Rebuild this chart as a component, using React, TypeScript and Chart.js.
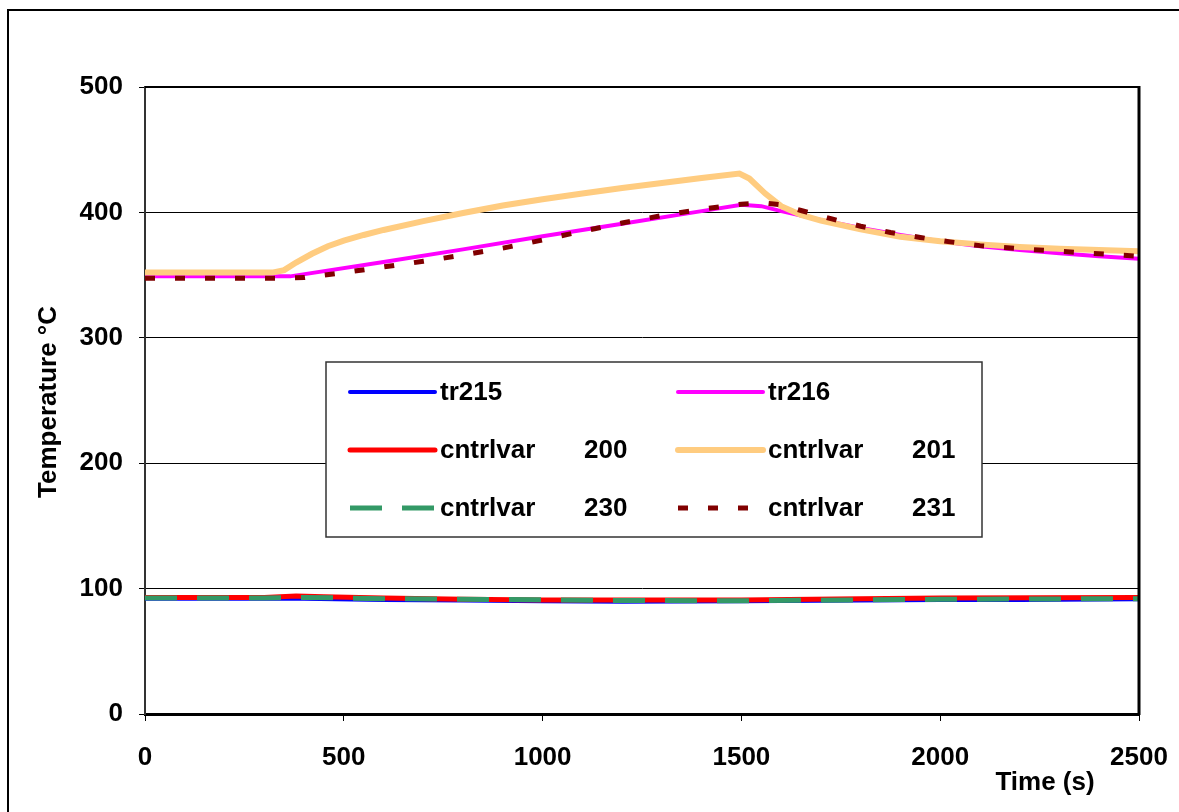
import React, { useEffect, useRef } from "react";
import { Chart, registerables } from "chart.js";

Chart.register(...registerables);

// ---- Data ----
const X_TICKS = [0, 500, 1000, 1500, 2000, 2500];
const Y_TICKS = [0, 100, 200, 300, 400, 500];

const tr215Time = [0, 300, 400, 600, 800, 1000, 1200, 1500, 1800, 2000, 2200, 2500];
const tr215Temp = [92, 92, 92, 91, 90.5, 90, 89.5, 90, 90.5, 91, 91, 91.5];

const tr216Time = [0, 365, 600, 800, 1000, 1200, 1400, 1500, 1550, 1600, 1700, 1800, 1900, 2000, 2100, 2200, 2300, 2400, 2500];
const tr216Temp = [349, 349, 360.5, 370.5, 381, 391, 401, 406, 405, 401, 394, 387.5, 382, 377, 373, 370, 367.5, 365, 363];

const cv200Time = [0, 300, 380, 450, 600, 800, 1000, 1500, 1800, 2000, 2500];
const cv200Temp = [93, 93, 94, 93.5, 92.5, 91.5, 91, 91, 92, 92.5, 93];

const cv201Time = [0, 320, 350, 380, 420, 460, 500, 550, 600, 700, 800, 900, 1000, 1100, 1200, 1300, 1400, 1495, 1520, 1560, 1600, 1650, 1700, 1800, 1900, 2000, 2100, 2200, 2300, 2400, 2500];
const cv201Temp = [352, 352, 354, 360, 367, 373, 377.5, 382, 386, 393, 399.5, 405.5, 410.5, 415, 419.5, 423.5, 427.5, 431, 427, 415, 405, 398, 393.5, 386.5, 380.5, 377, 374.5, 372.5, 371, 370, 369];

const cv230Time = [0, 300, 400, 600, 800, 1000, 1200, 1500, 1800, 2000, 2500];
const cv230Temp = [92.5, 92.5, 93, 92, 91.5, 91, 90.5, 90.3, 91, 91.5, 92];

const cv231Time = [0, 330, 400, 500, 600, 700, 800, 900, 1000, 1100, 1200, 1300, 1400, 1500, 1560, 1600, 1650, 1725, 1800, 1875, 1950, 2025, 2100, 2200, 2300, 2400, 2500];
const cv231Temp = [347.5, 347.5, 348, 352, 356.5, 361, 366, 371.5, 378, 385, 391.5, 397.5, 402.5, 406.5, 407.5, 406, 401.5, 395, 389, 384, 380, 376.5, 373.5, 371, 369, 367, 365];

const SERIES_NAMES = ["tr215", "tr216", "cntrlvar 200", "cntrlvar 201", "cntrlvar 230", "cntrlvar 231"];
const X_TITLE = "Time (s)";
const Y_TITLE = "Temperature °C";

const FONT_FAMILY = "'Liberation Sans', Arial, Helvetica, sans-serif";

function pts(t: number[], v: number[]) {
  return t.map((x, i) => ({ x, y: v[i] }));
}

export default function App() {
  const ref = useRef<HTMLCanvasElement | null>(null);

  useEffect(() => {
    const canvas = ref.current;
    if (!canvas) return;

    const styles = [
      { color: "#0000FF", width: 4, dash: [] as number[] },
      { color: "#FF00FF", width: 4, dash: [] as number[] },
      { color: "#FF0000", width: 5, dash: [] as number[] },
      { color: "#FFCC80", width: 6, dash: [] as number[] },
      { color: "#339966", width: 5, dash: [32, 20] },
      { color: "#800000", width: 5, dash: [10, 20] },
    ];
    const seriesData = [
      pts(tr215Time, tr215Temp),
      pts(tr216Time, tr216Temp),
      pts(cv200Time, cv200Temp),
      pts(cv201Time, cv201Temp),
      pts(cv230Time, cv230Temp),
      pts(cv231Time, cv231Temp),
    ];

    const decor = {
      id: "decor",
      beforeDraw(chart: any) {
        const ctx = chart.ctx;
        ctx.save();
        ctx.fillStyle = "#fff";
        ctx.fillRect(0, 0, chart.width, chart.height);
        ctx.strokeStyle = "#000";
        ctx.lineWidth = 2;
        ctx.beginPath();
        ctx.moveTo(8, 9);
        ctx.lineTo(8, chart.height);
        ctx.moveTo(7, 10);
        ctx.lineTo(chart.width, 10);
        ctx.stroke();
        ctx.restore();
      },
      afterDraw(chart: any) {
        const ctx = chart.ctx;
        const ca = chart.chartArea;
        ctx.save();
        // top & right plot border
        ctx.strokeStyle = "#000";
        ctx.lineWidth = 2;
        ctx.beginPath();
        ctx.moveTo(ca.left, ca.top);
        ctx.lineTo(ca.right, ca.top);
        ctx.stroke();
        ctx.lineWidth = 3;
        ctx.beginPath();
        ctx.moveTo(ca.right, ca.top - 1);
        ctx.lineTo(ca.right, ca.bottom + 1);
        ctx.stroke();

        // legend box
        const bx = ca.left + 181;
        const by = ca.top + 275;
        const bw = 656;
        const bh = 175;
        ctx.fillStyle = "#fff";
        ctx.fillRect(bx, by, bw, bh);
        ctx.strokeStyle = "#333";
        ctx.lineWidth = 1.5;
        ctx.strokeRect(bx, by, bw, bh);

        const colX = [bx + 24, bx + 352];
        const rowY = [by + 30, by + 88, by + 146];
        ctx.font = `bold 26px ${FONT_FAMILY}`;
        ctx.textBaseline = "middle";
        ctx.fillStyle = "#000";
        SERIES_NAMES.forEach((name, i) => {
          const col = i % 2;
          const row = Math.floor(i / 2);
          const x0 = colX[col];
          const y0 = rowY[row];
          const st = styles[i];
          ctx.strokeStyle = st.color;
          ctx.lineWidth = st.width;
          ctx.lineCap = st.dash.length ? "butt" : "round";
          ctx.setLineDash(st.dash);
          ctx.beginPath();
          ctx.moveTo(x0, y0);
          ctx.lineTo(x0 + 85, y0);
          ctx.stroke();
          ctx.setLineDash([]);
          const parts = name.split(" ");
          ctx.textAlign = "left";
          ctx.fillText(parts[0], x0 + 90, y0 + 1);
          if (parts[1]) {
            ctx.fillText(parts[1], x0 + 234, y0 + 1);
          }
        });

        // axis titles
        ctx.fillStyle = "#000";
        ctx.font = `bold 26px ${FONT_FAMILY}`;
        ctx.textBaseline = "alphabetic";
        ctx.textAlign = "center";
        ctx.fillText(X_TITLE, ca.right - 94, 790);
        ctx.translate(56, 402);
        ctx.rotate(-Math.PI / 2);
        ctx.fillText(Y_TITLE, 0, 0);
        ctx.restore();
      },
    };

    const tickFont = { family: FONT_FAMILY, size: 26, weight: "bold" as const };

    const chart = new Chart(canvas, {
      type: "line",
      data: {
        datasets: SERIES_NAMES.map((name, i) => ({
          label: name,
          data: seriesData[i],
          borderColor: styles[i].color,
          backgroundColor: styles[i].color,
          borderWidth: styles[i].width,
          borderDash: styles[i].dash,
          borderCapStyle: "butt",
          pointRadius: 0,
          tension: 0,
          fill: false,
          order: SERIES_NAMES.length - i,
        })),
      },
      options: {
        responsive: false,
        animation: false,
        devicePixelRatio: 1,
        parsing: false,
        layout: { padding: { left: 0, top: 87, right: 40, bottom: 0 } },
        plugins: {
          legend: { display: false },
          tooltip: { enabled: false },
        },
        scales: {
          x: {
            type: "linear",
            min: X_TICKS[0],
            max: X_TICKS[X_TICKS.length - 1],
            afterBuildTicks: (s: any) => {
              s.ticks = X_TICKS.map((v) => ({ value: v }));
            },
            afterFit: (s: any) => {
              s.height = 98;
              s.paddingLeft = 0;
              s.paddingRight = 0;
            },
            ticks: {
              font: tickFont,
              color: "#000",
              padding: 21,
              maxRotation: 0,
              autoSkip: false,
              callback: (v: any) => String(v),
            },
            grid: {
              drawOnChartArea: false,
              drawTicks: true,
              tickLength: 7,
              color: "#000",
              lineWidth: 1,
            },
            border: { color: "#000", width: 3 },
          },
          y: {
            type: "linear",
            min: Y_TICKS[0],
            max: Y_TICKS[Y_TICKS.length - 1],
            afterBuildTicks: (s: any) => {
              s.ticks = Y_TICKS.map((v) => ({ value: v }));
            },
            afterFit: (s: any) => {
              s.width = 145;
              s.paddingTop = 0;
              s.paddingBottom = 0;
            },
            ticks: {
              font: tickFont,
              color: "#000",
              padding: 16,
              callback: (v: any) => String(v),
            },
            grid: {
              color: "#000",
              lineWidth: 1,
              drawTicks: true,
              tickLength: 6,
            },
            border: { color: "#333", width: 2 },
          },
        },
      },
      plugins: [decor],
    } as any);

    return () => chart.destroy();
  }, []);

  return (
    <div style={{ position: "fixed", left: 0, top: 0, width: 1179, height: 812, background: "#fff" }}>
      <canvas ref={ref} width={1179} height={812} style={{ width: 1179, height: 812, display: "block" }} />
    </div>
  );
}
